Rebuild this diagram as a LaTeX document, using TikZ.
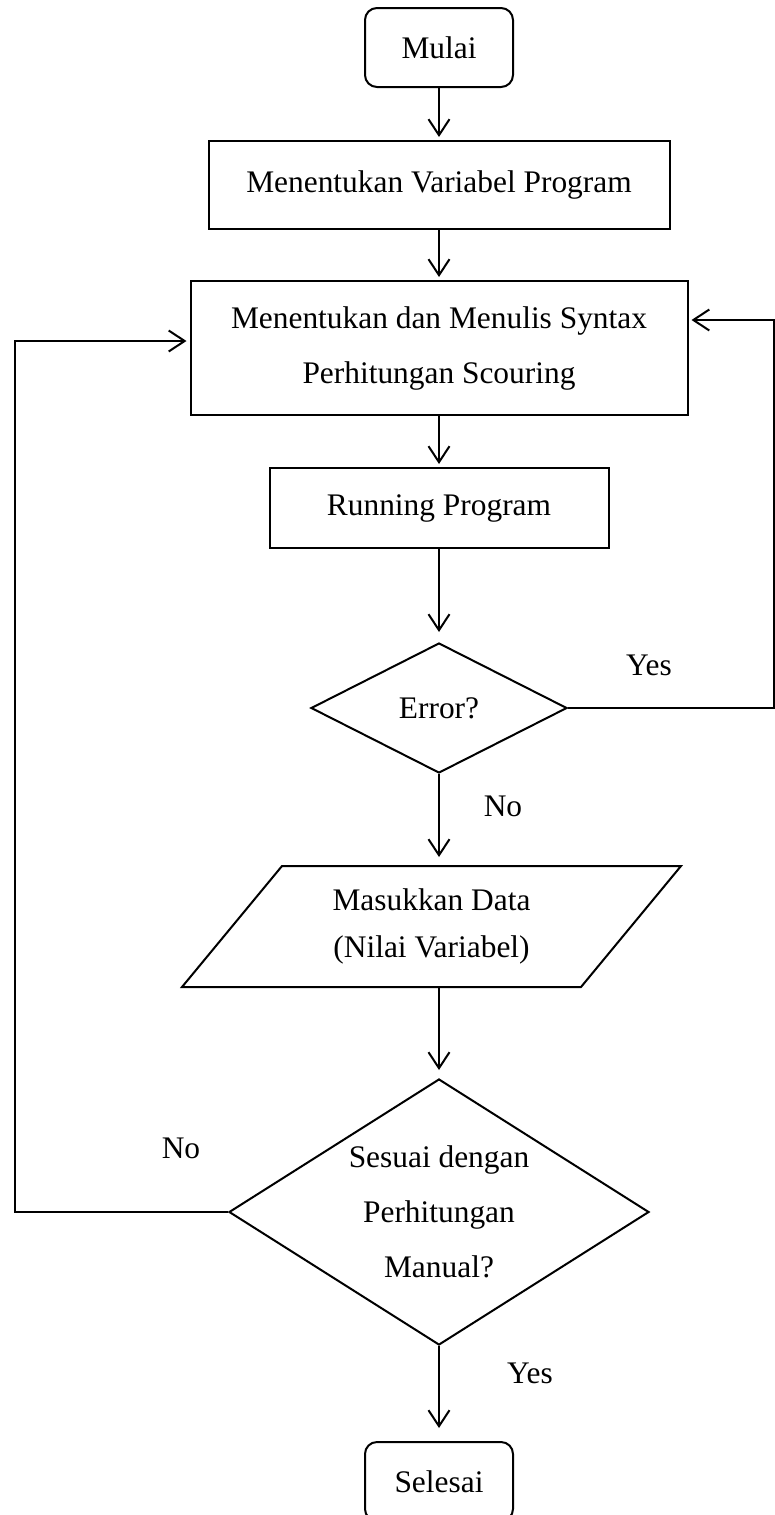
\documentclass[tikz,border=0pt]{standalone}
\usepackage{fontspec}
\setmainfont{Liberation Serif}
\usetikzlibrary{shapes.geometric,arrows.meta}
\begin{document}
\begin{tikzpicture}[x=0.5pt,y=-0.5pt,line width=1pt,
    font=\fontsize{15.7}{27.5}\selectfont,
    >={Straight Barb[length=8pt,width=10.5pt]},
    terminal/.style={draw,rounded corners=6pt,minimum width=74pt,minimum height=39.5pt,inner sep=0pt},
    process/.style={draw,inner sep=0pt,align=center},
    decision/.style={draw,diamond,inner sep=0pt,align=center},
    flow/.style={->,shorten >=1.5pt}]
    \useasboundingbox (0,0) rectangle (775,1515);
    % alur utama
    \node[terminal] (mulai) at (439,47.5) {Mulai};
    \node[process,minimum width=230.5pt,minimum height=44pt] (vars) at (439,185) {Menentukan Variabel Program};
    \node[process,minimum width=248.5pt,minimum height=67pt] (syntax) at (439,348) {Menentukan dan Menulis Syntax\\Perhitungan Scouring};
    \node[process,minimum width=169.5pt,minimum height=40pt] (run) at (439,508) {Running Program};
    \node[decision,minimum width=128pt,minimum height=65pt,aspect=2] (error) at (439,708) {Error?};
    \node[inner sep=0pt,align=center,minimum width=248.5pt,minimum height=59.5pt,font=\fontsize{15.7}{23.5}\selectfont] (data) at (431.5,926.5) {Masukkan Data\\(Nilai Variabel)};
    \draw (data.south west) -- ([xshift=50pt]data.north west) -- (data.north east) -- ([xshift=-50pt]data.south east) -- cycle;
    \node[decision,minimum width=210pt,minimum height=133pt,aspect=1.58] (cek) at (439,1212) {Sesuai dengan\\Perhitungan\\Manual?};
    \node[terminal] (selesai) at (439,1481.5) {Selesai};
    \draw[flow] (mulai) -- (vars);
    \draw[flow] (vars) -- (syntax);
    \draw[flow] (syntax) -- (run);
    \draw[flow,shorten >=5pt] (run) -- (error);
    \draw[flow,shorten >=4.5pt] (error.south) -- (error.south |- data.north);
    \draw[flow,shorten >=4pt] (error.south |- data.south) -- (cek.north);
    \draw[flow,shorten >=6.5pt] (cek) -- (selesai);
    % loop balik
    \coordinate (rp) at (774,320);
    \coordinate (lp) at (15,341);
    \draw[flow] (error.east) -| (rp) -- (syntax.east |- rp);
    \draw[flow] (cek.west) -| (lp) -- (syntax.west |- lp);
    \node (yes1) at (649,665) {Yes};
    \node (no1) at (503,806) {No};
    \node (no2) at (181,1148) {No};
    \node (yes2) at (530,1373) {Yes};
\end{tikzpicture}
\end{document}
